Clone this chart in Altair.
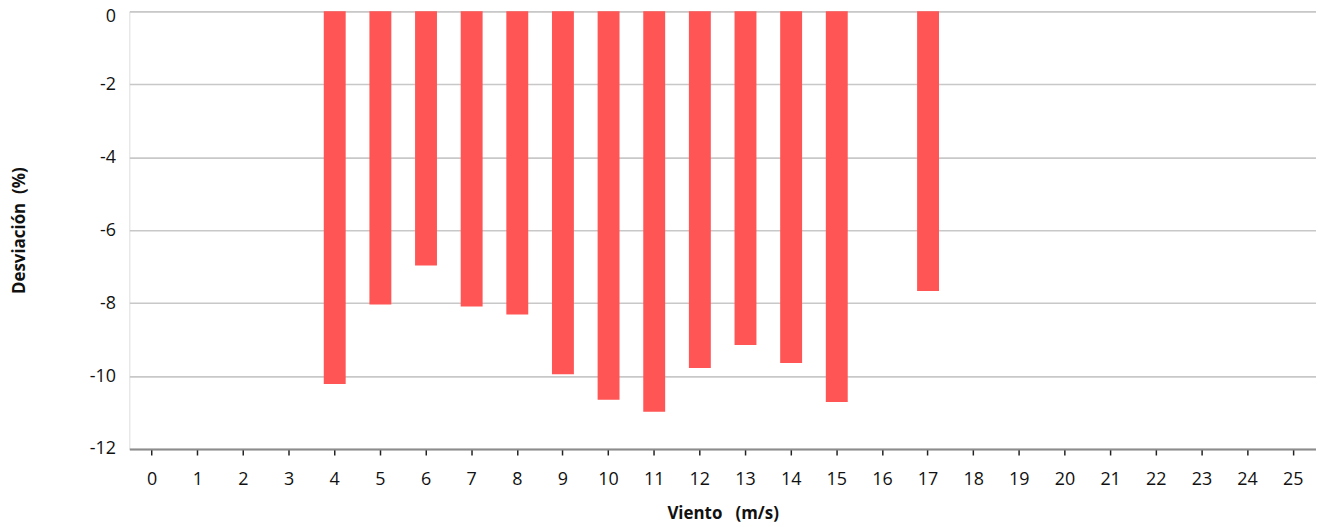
import altair as alt
import pandas as pd

categories = [str(i) for i in range(26)]
bar_winds = ["4", "5", "6", "7", "8", "9", "10", "11", "12", "13", "14", "15", "17"]
deviations = [-10.22, -8.04, -6.97, -8.09, -8.31, -9.95, -10.65, -10.98, -9.78, -9.15, -9.64, -10.71, -7.67]

df = pd.DataFrame({"viento": bar_winds, "desv": deviations})

FONT = "Open Sans"
NB = "\u00a0"

chart = (
    alt.Chart(df)
    .mark_bar(color="#FF5555")
    .encode(
        x=alt.X(
            "viento:N",
            sort=categories,
            scale=alt.Scale(domain=categories, paddingInner=0.52, paddingOuter=0.26),
            axis=alt.Axis(
                title="Viento" + NB * 3 + "(m/s)",
                labelAngle=0,
                labelFontSize=18,
                labelColor="#111111",
                labelFont=FONT,
                labelPadding=16,
                titleFont=FONT,
                titleFontSize=17,
                titleFontWeight="bold",
                titleColor="#111111",
                titlePadding=17,
                domainColor="#8c8c8c",
                domainWidth=2,
                tickColor="#222222",
                tickSize=6,
                tickWidth=1.5,
                grid=False,
            ),
        ),
        y=alt.Y(
            "desv:Q",
            scale=alt.Scale(domain=[-12, 0], nice=False),
            axis=alt.Axis(
                title="Desviación" + NB * 2 + "(%)",
                values=[0, -2, -4, -6, -8, -10, -12],
                labelExpr="'' + datum.value",
                labelFontSize=18,
                labelColor="#111111",
                labelFont=FONT,
                labelPadding=14,
                labelOffset={"condition": {"test": "datum.value == 0", "value": 5}, "value": 0},
                ticks=False,
                domain=False,
                grid=True,
                gridColor="#c8c8c8",
                gridWidth=1.6,
                titleFont=FONT,
                titleFontSize=17,
                titleFontWeight="bold",
                titleColor="#111111",
                titlePadding=61,
            ),
        ),
    )
    .properties(
        width=1193,
        height=440,
        autosize=alt.AutoSizeParams(type="none"),
        padding={"left": 122, "top": 2, "right": 0, "bottom": 75},
    )
    .configure_view(stroke=None)
    .configure(background="white")
)

chart.save("out.html", embed_options={"renderer": "svg", "actions": False})
